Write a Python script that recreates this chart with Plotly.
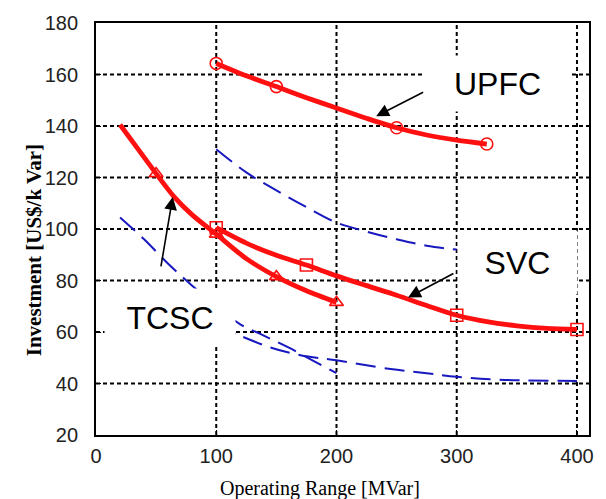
import plotly.graph_objects as go

# ---- data ----
upfc_x = [100, 125, 150, 175, 200, 225, 250, 275, 300, 325]
upfc_y = [164.3, 159.5, 155.3, 151, 147, 143, 139.3, 136.5, 134.5, 133]
upfc_mx = [100, 150, 250, 325]
upfc_my = [164.3, 155.3, 139.3, 133]

tcsc_x = [20, 35, 50, 65, 80, 100, 125, 150, 175, 200]
tcsc_y = [140.5, 131, 121.5, 112.5, 105.5, 98, 88.5, 81.5, 76, 71.5]
tcsc_mx = [50, 100, 150, 200]
tcsc_my = [121.5, 98, 81.5, 71.5]

svc_x = [100, 125, 150, 175, 200, 225, 250, 275, 300, 325, 350, 375, 400]
svc_y = [100.5, 94.5, 89.8, 86, 81.8, 78, 74.3, 70.3, 66.5, 64, 62.4, 61.4, 61]
svc_mx = [100, 175, 300, 400]
svc_my = [100.5, 86, 66.5, 61]

blue_upfc_x = [100, 125, 150, 175, 200, 225, 250, 275, 300]
blue_upfc_y = [131, 122, 115, 108.5, 102.5, 99, 96, 93.5, 92]

blue_tcsc_x = [20, 40, 60, 80, 100, 120, 140, 160, 180, 200]
blue_tcsc_y = [104.5, 96, 86.5, 78, 70, 63, 58.5, 54, 49, 44]

blue_svc_x = [100, 120, 145, 170, 200, 245, 275, 300, 340, 400]
blue_svc_y = [62, 58.5, 54, 51, 49, 45.6, 44, 42.6, 41.4, 41]

x_ticks = [0, 100, 200, 300, 400]
y_ticks = [20, 40, 60, 80, 100, 120, 140, 160, 180]

RED = "#ff1010"
BLUE = "#1818c0"

fig = go.Figure()

for bx, by in [(blue_upfc_x, blue_upfc_y), (blue_tcsc_x, blue_tcsc_y), (blue_svc_x, blue_svc_y)]:
    fig.add_trace(go.Scatter(x=bx, y=by, mode="lines", line=dict(color=BLUE, width=2, dash="20px,9px", shape="spline"),
                             showlegend=False, hoverinfo="skip"))

for cx, cy, mx, my, sym in [
    (upfc_x, upfc_y, upfc_mx, upfc_my, "circle-open"),
    (tcsc_x, tcsc_y, tcsc_mx, tcsc_my, "triangle-up-open"),
    (svc_x, svc_y, svc_mx, svc_my, "square-open"),
]:
    fig.add_trace(go.Scatter(x=cx, y=cy, mode="lines", line=dict(color=RED, width=4.8, shape="spline", smoothing=0.8),
                             showlegend=False, hoverinfo="skip"))
    fig.add_trace(go.Scatter(x=mx, y=my, mode="markers",
                             marker=dict(symbol=sym, size=12, color=RED, line=dict(width=1.6, color=RED)),
                             showlegend=False, hoverinfo="skip"))

# dotted grid lines at the tick values
grid_line = dict(color="#000000", width=2, dash="4px,3px")
shapes = []
for v in x_ticks[1:]:
    shapes.append(dict(type="line", xref="x", yref="paper", x0=v, x1=v, y0=0, y1=1, line=grid_line, layer="below"))
for v in y_ticks[1:-1]:
    shapes.append(dict(type="line", xref="paper", yref="y", x0=0, x1=1, y0=v, y1=v, line=grid_line, layer="below"))

label_font = dict(family="Liberation Sans, Arial, sans-serif", size=32, color="black")
annotations = [
    dict(x=333.9, y=156.7, xref="x", yref="y", text="UPFC", showarrow=False, bgcolor="white",
         width=145, height=55, font=label_font, borderpad=0),
    dict(x=350.5, y=87.1, xref="x", yref="y", text="SVC", showarrow=False, bgcolor="white",
         width=119, height=63, font=label_font, borderpad=0),
    dict(x=61.5, y=65.6, xref="x", yref="y", text="TCSC", showarrow=False, bgcolor="white",
         width=130, height=57, font=label_font, borderpad=0),
]
arrows = [
    (233, 143.8, 273.3, 153.4),
    (259.5, 73.4, 298.5, 83),
    (63.8, 112.4, 53.8, 84.9),
]
for hx, hy, tx, ty in arrows:
    annotations.append(dict(x=hx, y=hy, ax=tx, ay=ty, xref="x", yref="y", axref="x", ayref="y",
                            text="", showarrow=True, arrowhead=2, arrowsize=1.6, arrowwidth=1.6,
                            arrowcolor="black", standoff=0, startstandoff=0))

title_font = dict(family="Liberation Serif, Times New Roman, serif", size=20, color="black")
annotations.append(dict(x=320, y=489, xref="paper", yref="paper", text="Operating Range [MVar]",
                        showarrow=False, font=title_font))
annotations.append(dict(x=34, y=248.5, xref="paper", yref="paper", text="<b>Investment [US$/k Var]</b>",
                        showarrow=False, textangle=-90, font=dict(family="Liberation Serif, Times New Roman, serif", size=21, color="black")))

W, H = 606, 499
ML, MR, MT, MB = 96, 17, 19, 64
for a in annotations[-2:]:
    px, py = a["x"], a["y"]
    a["x"] = (px - ML) / (W - ML - MR)
    a["y"] = 1 - (py - MT) / (H - MT - MB)
    a["xanchor"] = "center"
    a["yanchor"] = "middle"

tick_font = dict(family="Liberation Sans, Arial, sans-serif", size=20, color="#222")
axis_common = dict(showline=True, linecolor="black", linewidth=1.8, mirror=True,
                   ticks="inside", ticklen=5, tickcolor="black", tickwidth=1.2,
                   showgrid=False, zeroline=False, tickfont=tick_font)

fig.update_layout(
    width=W, height=H,
    margin=dict(l=ML, r=MR, t=MT, b=MB),
    paper_bgcolor="white", plot_bgcolor="white",
    xaxis=dict(range=[0, 410], tickvals=x_ticks, ticktext=[str(v) for v in x_ticks],
               ticklabelstandoff=2, **axis_common),
    yaxis=dict(range=[20, 180], tickvals=y_ticks, ticktext=[str(v) for v in y_ticks],
               ticklabelstandoff=12, **axis_common),
    shapes=shapes,
    annotations=annotations,
    showlegend=False,
)

fig.write_html("out.html")
